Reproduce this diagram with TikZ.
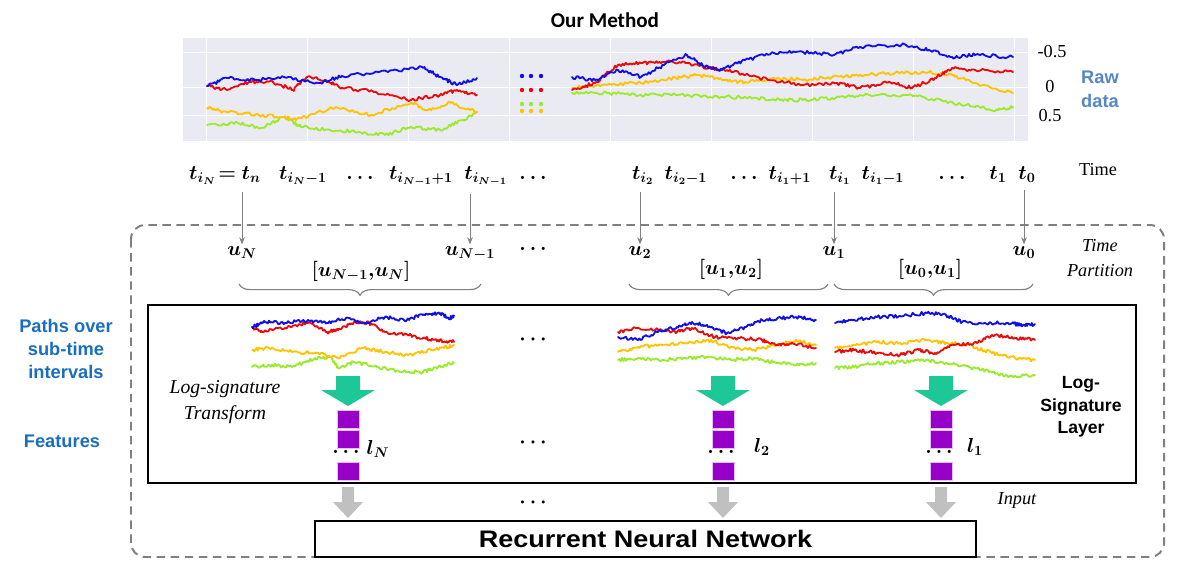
\documentclass[tikz,border=0pt]{standalone}
\usepackage{bm}
\usepackage{fontspec}
\newfontfamily\arialfont{Liberation Sans}
\newfontfamily\timesfont{Liberation Serif}
\newfontfamily\califont{Carlito}
\usetikzlibrary{arrows.meta,decorations.pathreplacing}
\definecolor{chartbg}{RGB}{234,234,242}
\definecolor{wblue}{RGB}{15,15,230}
\definecolor{wred}{RGB}{235,10,10}
\definecolor{wyellow}{RGB}{255,195,0}
\definecolor{wgreen}{RGB}{155,235,45}
\definecolor{lblue}{RGB}{25,110,190}
\definecolor{rawblue}{RGB}{85,135,195}
\definecolor{tgreen}{RGB}{30,200,150}
\definecolor{fpurple}{RGB}{150,0,200}
\definecolor{agray}{RGB}{192,192,192}
% jagged path through the given points
\newcommand\walkpath[2]{%
  \foreach \px/\py [count=\k, remember=\px as \qx (initially 0), remember=\py as \qy (initially 0)] in {#2} {
    \ifnum\k>1
      \draw[walk,#1] plot[domain=0:1,samples=16,variable=\s] ({\qx+(\px-\qx)*\s},{\qy+(\py-\qy)*\s+and(\s>0.01,\s<0.99)*1.8*rand});
    \fi
  }%
}
\begin{document}
\begin{tikzpicture}[x=0.025cm,y=-0.025cm,
  walk/.style={line width=1.3pt,line join=round,line cap=round},
  mth/.style={font=\Large,inner sep=1pt},
  tarrow/.style={gray,line width=0.6pt,-{Stealth[length=5pt,width=4pt]}},
  brc/.style={gray,line width=0.8pt,decorate,decoration={brace,mirror,amplitude=8pt}},
  bluelab/.style={font=\arialfont\bfseries\fontsize{13}{16.5}\selectfont,text=lblue,align=center},
  sq/.style={fill=fpurple,draw=fpurple!25,line width=0.4pt,minimum width=0.55cm,minimum height=0.45cm,inner sep=0pt},
  tnr/.style={font=\timesfont\fontsize{13}{17.5}\selectfont,align=center}]
\useasboundingbox (0,0) rectangle (1200,567);
\pgfmathsetseed{11}
\node[font=\califont\bfseries\fontsize{15}{18}\selectfont] (title) at (605,20) {Our Method};
% raw data chart
\fill[chartbg] (183,38) rectangle (1028,141);
\foreach \gx in {206,307,...,1015} \draw[white,line width=0.5pt] (\gx,38) -- (\gx,141);
\foreach \gy in {52,87,115} \draw[white,line width=0.5pt] (183,\gy) -- (1028,\gy);
\walkpath{wgreen}{207/125,238/123,261/128,284/117,301/127,330/130,359/132,385/135,411/127,440/130,463/120,477/112}
\walkpath{wyellow}{207/108,227/112,255/115,284/117,296/120,336/107,371/115,411/103,428/110,451/103,477/112}
\walkpath{wred}{207/86,227/90,250/82,273/82,293/90,307/77,325/80,342/88,376/92,411/100,440/95,457/90,477/95}
\walkpath{wblue}{207/86,227/78,255/80,284/77,319/83,342/76,388/72,422/67,440/77,457/85,477/78}
\walkpath{wgreen}{572/93,607/93,641/95,676/95,710/97,745/97,780/100,803/100,832/98,860/95,906/95,941/100,975/107,998/110,1013/107}
\walkpath{wyellow}{572/88,607/85,641/83,676/78,699/75,722/80,745/82,774/78,803/80,832/77,860/75,895/73,929/72,952/75,975/83,1013/93}
\walkpath{wred}{572/90,595/83,618/65,641/63,664/62,687/63,710/68,733/72,768/80,803/85,837/83,860/88,889/82,912/88,935/78,952/68,975/70,1013/72}
\walkpath{wblue}{572/77,595/80,618/70,641/77,664/65,687/55,705/67,722/70,745/60,774/53,803/52,834/55,860/47,906/45,929/50,952/57,975/55,1013/57}
\foreach \dx in {522,531,541} {
  \fill[wblue] (\dx,76) circle (2.2);
  \fill[wred] (\dx,90) circle (2.2);
  \fill[wgreen] (\dx,104) circle (2.2);
  \fill[wyellow] (\dx,111) circle (2.2);
}
\node[tnr] (ym) at (1052,52) {-0.5};
\node[tnr] (yz) at (1050,87) {0};
\node[tnr] (yp) at (1050,116) {0.5};
\node[font=\arialfont\bfseries\fontsize{13}{17}\selectfont,text=rawblue,align=center] (raw) at (1100,89) {Raw\\data};
% time axis
\node[mth,anchor=base] (tiN) at (225,179) {$\bm{t_{i_N}\!=t_n}$};
\node[mth,anchor=base] (tiNm) at (303,179) {$\bm{t_{i_N-1}}$};
\node[mth,anchor=base] (tda) at (360,179) {$\bm{\ldots}$};
\node[mth,anchor=base] (tiNp) at (421,179) {$\bm{t_{i_{N-1}+1}}$};
\node[mth,anchor=base] (tiNo) at (486,179) {$\bm{t_{i_{N-1}}}$};
\node[mth,anchor=base] (tdb) at (533,179) {$\bm{\ldots}$};
\node[mth,anchor=base] (tib) at (643,179) {$\bm{t_{i_2}}$};
\node[mth,anchor=base] (tibm) at (686,179) {$\bm{t_{i_2-1}}$};
\node[mth,anchor=base] (tdc) at (744,179) {$\bm{\ldots}$};
\node[mth,anchor=base] (tiap) at (790,179) {$\bm{t_{i_1+1}}$};
\node[mth,anchor=base] (tia) at (840,179) {$\bm{t_{i_1}}$};
\node[mth,anchor=base] (tiam) at (883,179) {$\bm{t_{i_1-1}}$};
\node[mth,anchor=base] (tdd) at (952,179) {$\bm{\ldots}$};
\node[mth,anchor=base] (ta) at (998,179) {$\bm{t_1}$};
\node[mth,anchor=base] (tz) at (1027,179) {$\bm{t_0}$};
\node[tnr] (time) at (1098,170) {Time};
% partition
\draw[gray,dashed,dash pattern=on 6pt off 4pt,line width=1.4pt,rounded corners=10pt] (131,225) rectangle (1164,557);
\node[mth,anchor=base] (uN) at (242,255) {$\bm{u_N}$};
\node[mth,anchor=base] (uNm) at (470,255) {$\bm{u_{N-1}}$};
\node[mth,anchor=base] (uda) at (533,250) {$\bm{\ldots}$};
\node[mth,anchor=base] (ub) at (640,255) {$\bm{u_2}$};
\node[mth,anchor=base] (ua) at (834,255) {$\bm{u_1}$};
\node[mth,anchor=base] (uz) at (1024,255) {$\bm{u_0}$};
\foreach \t/\u in {tiN/uN,tiNo/uNm,tib/ub,tia/ua,tz/uz}
  \draw[tarrow] (\u |- \t.south) ++(0,6) -- (\u.north);
\node[font=\timesfont\itshape\fontsize{13}{18}\selectfont,align=center] (tpart) at (1100,258) {Time\\Partition};
\node[mth,anchor=base] (bN) at (361,276) {$\bm{[u_{N-1}{,}u_N]}$};
\node[mth,anchor=base] (bb) at (731,274) {$\bm{[u_1{,}u_2]}$};
\node[mth,anchor=base] (ba) at (930,274) {$\bm{[u_0{,}u_1]}$};
\draw[brc] (239,284) -- (481,284);
\draw[brc] (629,284) -- (828,284);
\draw[brc] (834,284) -- (1033,284);
% log-signature layer
\draw[line width=2pt] (148,305) rectangle (1136,483);
\node[bluelab] (paths) at (66,349) {Paths over\\sub-time\\intervals};
\node[bluelab] (feat) at (62,441) {Features};
\walkpath{wgreen}{252/367,269/365,292/367,315/358,331/357,338/368,354/362,377/367,400/372,423/372,438/367,454/363}
\walkpath{wyellow}{252/350,269/348,292/352,315/353,338/358,362/348,385/352,408/355,431/350,446/347,454/345}
\walkpath{wred}{252/327,262/332,285/328,308/323,327/332,338/330,354/322,369/323,385/332,408/335,423/338,438/340,454/342}
\walkpath{wblue}{252/327,265/322,285/323,308/320,327/323,346/318,365/323,385/317,404/320,423/315,438/313,450/318,454/316}
\walkpath{wgreen}{618/360,638/358,662/360,685/358,708/357,731/360,754/358,773/362,796/365,816/363}
\walkpath{wyellow}{618/352,638/347,662/345,685/343,708/340,731/347,754/350,777/345,796/340,816/345}
\walkpath{wred}{618/332,638/328,658/330,677/332,692/328,715/337,738/338,762/340,777/345,792/343,816/348}
\walkpath{wblue}{618/337,638/340,658/332,677/327,692/322,708/327,727/333,746/327,762/320,781/318,800/317,816/320}
\walkpath{wgreen}{835/368,854/367,877/363,900/362,923/360,946/363,969/367,992/372,1008/377,1035/375}
\walkpath{wyellow}{835/348,854/345,877/342,900/343,927/340,946/343,969/345,992/353,1015/358,1035/360}
\walkpath{wred}{835/352,854/350,877/353,900/355,919/350,935/353,954/345,977/343,992/335,1015/338,1035/340}
\walkpath{wblue}{835/323,854/320,877/317,900/316,927/313,946/315,962/322,985/323,1008/323,1023/325,1035/324}
\foreach \x in {348,723,941} {
  \fill[tgreen] (\x-12,376) -- (\x+12,376) -- (\x+12,390) -- (\x+27,390) -- (\x,406) -- (\x-27,390) -- (\x-12,390) -- cycle;
  \fill[agray] (\x-6,487) -- (\x+6,487) -- (\x+6,502) -- (\x+15,502) -- (\x,518) -- (\x-15,502) -- (\x-6,502) -- cycle;
}
\node[font=\timesfont\itshape\fontsize{14}{19}\selectfont,align=center] (lst) at (225,402) {Log-signature\\Transform};
\node[sq] (fNa) at (348,419) {};
\node[sq] (fNb) at (348,439) {};
\node[mth] (fNd) at (346,452) {$\bm{\ldots}$};
\node[sq] (fNc) at (348,471) {};
\node[mth] (lN) at (378,449) {$\bm{l_N}$};
\node[sq] (fba) at (723,419) {};
\node[sq] (fbb) at (723,439) {};
\node[mth] (fbd) at (721,452) {$\bm{\ldots}$};
\node[sq] (fbc) at (723,471) {};
\node[mth] (lb) at (762,447) {$\bm{l_2}$};
\node[sq] (faa) at (941,419) {};
\node[sq] (fab) at (941,439) {};
\node[mth] (fad) at (939,452) {$\bm{\ldots}$};
\node[sq] (fac) at (941,471) {};
\node[mth] (la) at (975,447) {$\bm{l_1}$};
\node[mth] (mda) at (533,340) {$\bm{\cdots}$};
\node[mth] (mdb) at (533,443) {$\bm{\cdots}$};
\node[mth] (mdc) at (533,503) {$\bm{\cdots}$};
\node[font=\arialfont\bfseries\fontsize{12.5}{16}\selectfont,align=center] (lsl) at (1081,407) {Log-\\Signature\\Layer};
% rnn
\node[font=\timesfont\itshape\fontsize{13}{15}\selectfont] (inp) at (1017,500) {Input};
\node[draw,line width=1.5pt,fill=white,minimum width=16.5cm,minimum height=0.9cm,font=\arialfont\bfseries\fontsize{17}{20}\selectfont] (rnn) at (645.5,539) {\scalebox{1.13}[1]{Recurrent Neural Network}};
\end{tikzpicture}
\end{document}
